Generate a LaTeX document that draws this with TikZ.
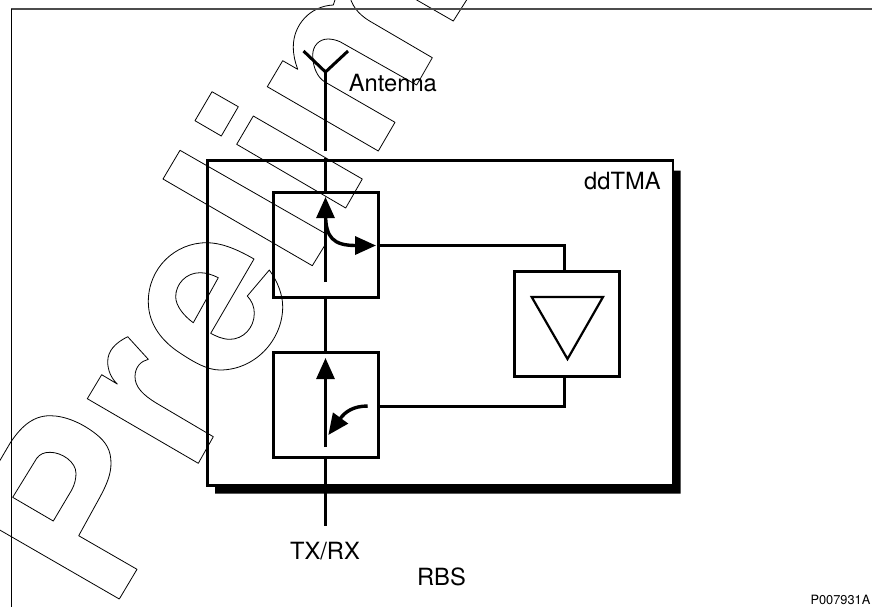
\documentclass[tikz,border=0pt]{standalone}
\usepackage{fontspec}
\setmainfont{TeX Gyre Heros}
\usetikzlibrary{arrows.meta, positioning}

\begin{document}
\begin{tikzpicture}[x=0.5pt, y=-0.5pt,
      wmark/.style={draw, line width=0.4pt, line join=round},
      wire/.style={draw, line width=1.5pt},
      blk/.style={draw, line width=1.5pt, minimum size=52.5pt, inner sep=0pt, outer sep=0pt},
      bigtip/.style={-{Triangle[length=10.5pt, width=9pt]}},
      curvearrow/.style={line width=1.7pt, bigtip},
      lbl/.style={inner sep=0pt, font=\fontsize{11.85}{14}\selectfont},
      tinylbl/.style={inner sep=0pt, font=\fontsize{6.4}{8}\selectfont}]
    \useasboundingbox (0,0) rectangle (872,607);

    \begin{scope}
      \clip (0,0) rectangle (872,607);
      \draw[wmark] (119.3,599) -- (137,569.3) -- (78.7,535.7) -- (100,497) .. controls (107,484) and (111,474) .. (111,463.3)
        .. controls (111,450) and (106,442) .. (96,434) .. controls (82,423) and (65,415.7) .. (50,415.7)
        .. controls (32,415.7) and (20,428) .. (10,443.3) -- (-8,474);
      \draw[wmark] (-8,525.5) -- (119.3,599);
      \draw[wmark] (12.7,497.3) -- (53.3,521) -- (71.7,490) .. controls (75,484) and (76,478) .. (76,473.3)
        .. controls (76,462) and (62,452.3) .. (50,452.3) .. controls (44,452.3) and (40,454) .. (36.7,458.3) -- cycle;
      \draw[wmark] (87.3,398.7) -- (198.3,463.3) -- (213.3,436.7) -- (156.7,403.3) .. controls (143,395) and (135,387) .. (135,376.7)
        .. controls (135,367) and (141,361) .. (148.3,359.3) -- (127.7,336.7) .. controls (115,343) and (107.7,351) .. (107.7,361.7)
        .. controls (107.7,370) and (111,378) .. (117.3,384) -- (101.7,374.7) -- cycle;
      \draw[wmark] (254,259) .. controls (235,248) and (220,242.7) .. (206.7,242.7) .. controls (175,242.7) and (148.3,268) .. (148.3,301.7)
        .. controls (148.3,325) and (163,342) .. (180,353) .. controls (195,363) and (208,370) .. (220,370)
        .. controls (255,370) and (282.7,340) .. (282.7,306.7) .. controls (282.7,295) and (278,282) .. (269.3,270)
        -- (247.3,296) .. controls (252,301) and (254.3,307) .. (254.3,313.3) .. controls (254.3,328) and (243,339.3) .. (230,339.3)
        .. controls (222,339.3) and (216,336) .. (210.7,333.3) -- cycle;
      \draw[wmark] (218.3,277.7) .. controls (212,274.5) and (206,272.7) .. (200,272.7) .. controls (186,272.7) and (175.7,284) .. (175.7,296.7)
        .. controls (175.7,306) and (184,316) .. (193.3,322.7) -- cycle;
      \draw[wmark] (325,233.3) -- (180,150.3) -- (163,179) -- (312.3,265.7) -- (325,245);
      \draw[wmark] (212,91.7) -- (238.3,106.7) -- (221.3,136) -- (195,120.7) -- cycle;
      \draw[wmark] (253.3,116) -- (362.3,179) -- (345.7,208) -- (236.7,144.3) -- cycle;
      \draw[wmark] (336,-3) -- (333.3,5) .. controls (310,6) and (293.3,25) .. (293.3,46.7) .. controls (293.3,55) and (295,62) .. (297.7,69.3)
        -- (282.7,60.7) -- (267.3,86.7) -- (378.3,151) -- (395,122.3) -- (325,82) .. controls (318,78) and (312.7,68) .. (312.7,55)
        .. controls (312.7,46) and (319,39) .. (328,39) .. controls (332,39) and (336,40) .. (340,41.7) -- (416.7,85) -- (432.3,57.7)
        -- (373,23) .. controls (362,17) and (353,9) .. (350,-3);
      \draw[wmark] (411.5,-3) -- (453.3,21) -- (468.5,-3);
    \end{scope}

    \draw[line width=1pt, black!70] (11,9) -- (872,9);
    \draw[line width=0.6pt] (11.7,8.5) -- (11.7,607);

    \node[blk, line width=1.3pt, minimum width=232.7pt, minimum height=162.6pt] (ddtmaBox) at (440.1,323.1) {};
    \fill (672.7,170.7) -- (680.7,170.7) -- (680.7,493.5) -- (215,493.5) -- (215,485.7) -- (672.7,485.7) -- cycle;

    \node[blk] (upperBox) at (326,245) {};
    \node[blk] (lowerBox) at (326,405) {};
    \node[blk] (ampBox) at (567,324) {};
    \draw[line width=1.1pt] (531.7,297) -- (603,297) -- (567.5,359) -- cycle;

    \node[lbl, anchor=base west] (antennaLbl) at (348.5,91.7) {Antenna};
    \node[lbl, anchor=base east] (ddtmaLbl) at (661,189) {ddTMA};
    \node[lbl, anchor=base] (txrxLbl) at (325,559) {TX/RX};
    \node[lbl, anchor=base west] (rbsLbl) at (416.7,585) {RBS};
    \node[tinylbl, anchor=base east] (refLbl) at (870.7,604) {P007931A};

    \coordinate (antHub) at (325.5,72);
    \coordinate (antLeft) at (303.5,51);
    \coordinate (antRight) at (348,51);
    \coordinate (antFoot) at (325.5,151);
    \coordinate (boxEntry) at (325.5,158);
    \coordinate (feedEnd) at (325.5,526);
    \coordinate (upBase) at (325.5,282);
    \coordinate (upTip) at (325.5,197);
    \coordinate (lowBase) at (325.5,447);
    \coordinate (lowTip) at (325.5,358);
    \coordinate (sideTip) at (376,245.5);
    \coordinate (ampDrop) at (564.5,324);
    \coordinate (lowPort) at (380,406.5);

    \draw[wire] (antLeft) -- (antHub) -- (antRight);
    \draw[wire] (antHub) -- (antFoot);
    \draw[wire] (boxEntry) -- (boxEntry |- upperBox.north);
    \draw[wire] (antHub |- upperBox.south) -- (antHub |- lowerBox.north);
    \draw[wire] (antHub |- lowerBox.south) -- (feedEnd);
    \draw[wire, bigtip] (upBase) -- (upTip);
    \draw[wire, bigtip] (lowBase) -- (lowTip);
    \draw[curvearrow] (325.6,216) .. controls (326,237) and (333,245.5) .. (sideTip);
    \draw[curvearrow] (367.7,406) .. controls (353,406) and (345,412) .. (328.3,435);
    \draw[wire] (upperBox.east |- sideTip) -| (ampDrop |- ampBox.north);
    \draw[wire] (lowPort) -| (ampDrop |- ampBox.south);
  \end{tikzpicture}
\end{document}
